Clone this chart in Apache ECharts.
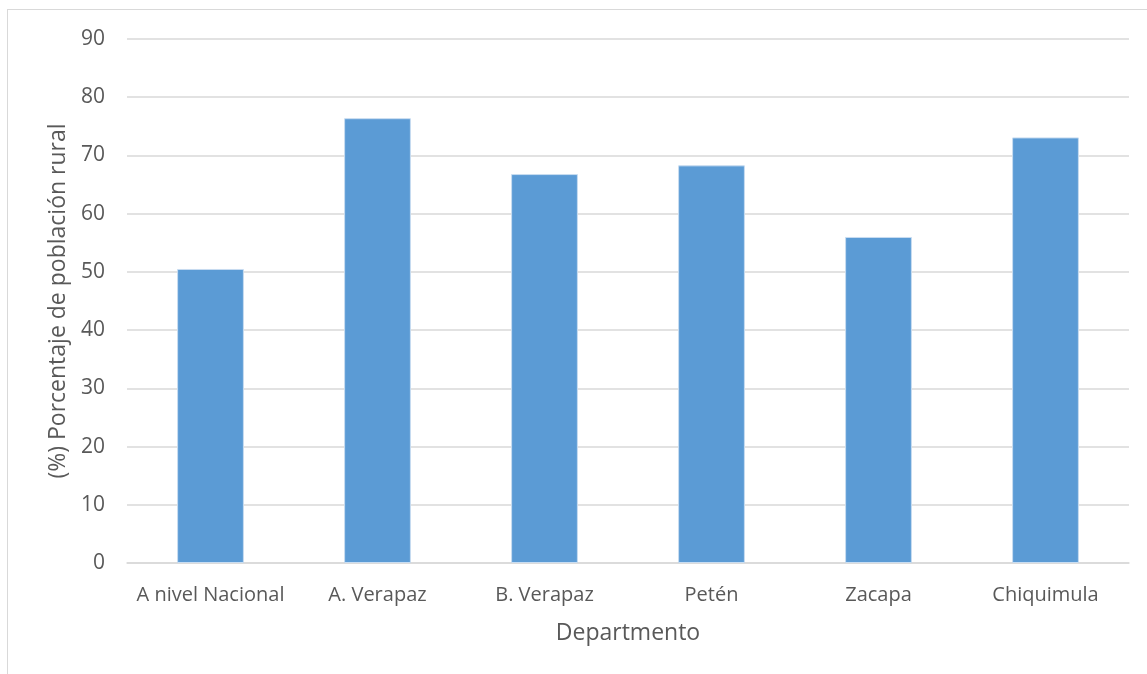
<!DOCTYPE html>
<html>
<head>
<meta charset="UTF-8">
<title>Población rural por departamento</title>
<script src="https://cdn.jsdelivr.net/npm/echarts@6/dist/echarts.min.js"></script>
<style>
  html, body { margin: 0; padding: 0; background: #fff; }
  #frame { position: absolute; left: 7px; top: 9px; width: 1160px; height: 700px; border: 1.5px solid #d9d9d9; }
  #chart { width: 1147px; height: 674px; position: absolute; left: 0; top: 0; }
</style>
</head>
<body>
<div id="frame"></div>
<div id="chart"></div>
<script>
// departamentos y porcentaje de población rural
const categories = ['A nivel Nacional', 'A. Verapaz', 'B. Verapaz', 'Petén', 'Zacapa', 'Chiquimula'];
const ruralPct = [50.5, 76.4, 66.8, 68.3, 56.0, 73.1];
const yTicks = { min: 0, max: 90, interval: 10 };

const font = '"Open Sans", "Noto Sans", sans-serif';
const chart = echarts.init(document.getElementById('chart'), null, { renderer: 'canvas' });

chart.setOption({
  animation: false,
  grid: { left: 127, right: 18, top: 39, bottom: 111, containLabel: false },
  xAxis: {
    type: 'category',
    data: categories,
    name: 'Departmento',
    nameLocation: 'middle',
    nameGap: 59,
    nameTextStyle: { color: '#595959', fontSize: 23, fontFamily: font },
    axisLine: { lineStyle: { color: '#d9d9d9', width: 1.5 } },
    axisTick: { show: false },
    axisLabel: { color: '#595959', fontSize: 20, fontFamily: font, margin: 22, interval: 0 }
  },
  yAxis: {
    type: 'value',
    min: yTicks.min,
    max: yTicks.max,
    interval: yTicks.interval,
    name: '(%) Porcentaje de población rural',
    nameLocation: 'middle',
    nameGap: 57,
    nameTextStyle: { color: '#595959', fontSize: 23, fontFamily: font },
    axisLine: { show: false },
    axisTick: { show: false },
    axisLabel: { color: '#595959', fontSize: 21, fontFamily: font, margin: 22 },
    splitLine: { lineStyle: { color: '#d9d9d9', width: 1.5 } }
  },
  series: [{
    type: 'bar',
    data: ruralPct,
    barWidth: '40%',
    itemStyle: { color: '#5b9bd5', borderColor: '#c9ddf1', borderWidth: 1 }
  }]
});
</script>
</body>
</html>
